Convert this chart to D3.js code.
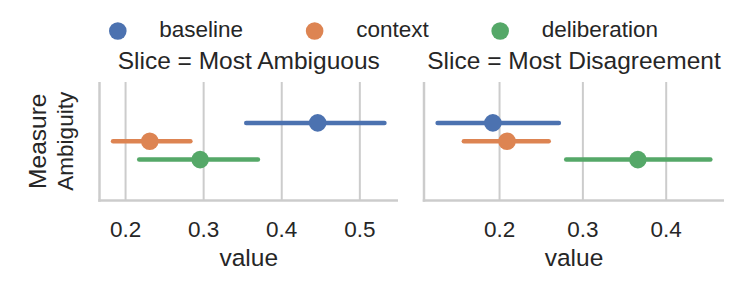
<!DOCTYPE html>
<html lang="en">
<head>
  <meta charset="UTF-8">
  <title>Pointplot by slice</title>
  <script src="https://d3js.org/d3.v7.min.js"></script>
  <style>
    body { margin: 0; background: #fff; }
    svg { display: block; font-family: "Liberation Sans", Arial, sans-serif; }
    text { fill: #262626; }
  </style>
</head>
<body>
  <svg width="750" height="300"></svg>
  <script>
    // data
    const hues = ["baseline", "context", "deliberation"];
    const colors = ["#4c72b0", "#dd8452", "#55a868"];
    const slices = ["Most Ambiguous", "Most Disagreement"];
    const category = "Ambiguity";
    const means = [[0.446, 0.231, 0.2955], [0.192, 0.209, 0.366]];
    const lows  = [[0.3545, 0.184, 0.2175], [0.1257, 0.1572, 0.28]];
    const highs = [[0.5315, 0.283, 0.3695], [0.2712, 0.259, 0.453]];
    const xTicks = [[0.2, 0.3, 0.4, 0.5], [0.2, 0.3, 0.4]];

    const svg = d3.select("svg");
    const panelX = [99.5, 424];
    const panelW = [298.5, 300];
    const plotTop = 82, plotBottom = 200.5;
    const big = 24.5, small = 22.5;

    // one category, hue dodged around it (first on top)
    const y = d3.scaleLinear().domain([-0.5, 0.5]).range([plotTop, plotBottom]);
    const dodge = d3.scalePoint().domain(hues).range([-0.155, 0.155]);

    slices.forEach((s, i) => {
      const lo = d3.min(lows[i]), hi = d3.max(highs[i]);
      const m = (hi - lo) * 0.05;
      const x = d3.scaleLinear().domain([lo - m, hi + m]).range([panelX[i], panelX[i] + panelW[i]]);
      const g = svg.append("g");

      // grid
      g.selectAll(".grid").data(xTicks[i]).enter().append("line")
        .attr("x1", d => x(d)).attr("x2", d => x(d))
        .attr("y1", plotTop).attr("y2", plotBottom)
        .attr("stroke", "#cccccc").attr("stroke-width", 2);

      // spines
      g.append("line").attr("x1", panelX[i]).attr("x2", panelX[i])
        .attr("y1", plotTop).attr("y2", plotBottom + 1.25)
        .attr("stroke", "#cccccc").attr("stroke-width", 2.5);
      g.append("line").attr("x1", panelX[i] - 1.25).attr("x2", panelX[i] + panelW[i])
        .attr("y1", plotBottom).attr("y2", plotBottom)
        .attr("stroke", "#cccccc").attr("stroke-width", 2.5);

      // error bars + points
      hues.forEach((h, j) => {
        const cy = y(dodge(h));
        g.append("line")
          .attr("x1", x(lows[i][j])).attr("x2", x(highs[i][j]))
          .attr("y1", cy).attr("y2", cy)
          .attr("stroke", colors[j]).attr("stroke-width", 4.5)
          .attr("stroke-linecap", "round");
        g.append("circle")
          .attr("cx", x(means[i][j])).attr("cy", cy).attr("r", 8.8)
          .attr("fill", colors[j]);
      });

      // tick labels
      g.selectAll(".tick").data(xTicks[i]).enter().append("text")
        .attr("x", d => x(d)).attr("y", 237)
        .attr("text-anchor", "middle").attr("font-size", small)
        .text(d3.format(".1f"));

      g.append("text")
        .attr("x", panelX[i] + panelW[i] / 2).attr("y", 266)
        .attr("text-anchor", "middle").attr("font-size", big)
        .text("value");

      g.append("text")
        .attr("x", panelX[i] + panelW[i] / 2).attr("y", 69)
        .attr("text-anchor", "middle").attr("font-size", big)
        .text("Slice = " + s);
    });

    // y axis label + category tick label
    const yc = y(0);
    svg.append("text")
      .attr("transform", `translate(45.5,${yc}) rotate(-90)`)
      .attr("text-anchor", "middle").attr("font-size", big)
      .text("Measure");
    svg.append("text")
      .attr("transform", `translate(72.5,${yc}) rotate(-90)`)
      .attr("text-anchor", "middle").attr("font-size", small)
      .text(category);

    // legend
    let lx = 117.8;
    hues.forEach((h, j) => {
      svg.append("circle").attr("cx", lx).attr("cy", 31).attr("r", 8.8).attr("fill", colors[j]);
      const t = svg.append("text").attr("x", lx + 41.5).attr("y", 37)
        .attr("font-size", small).text(h);
      lx += 41.5 + t.node().getComputedTextLength() + 71.5;
    });
  </script>
</body>
</html>
